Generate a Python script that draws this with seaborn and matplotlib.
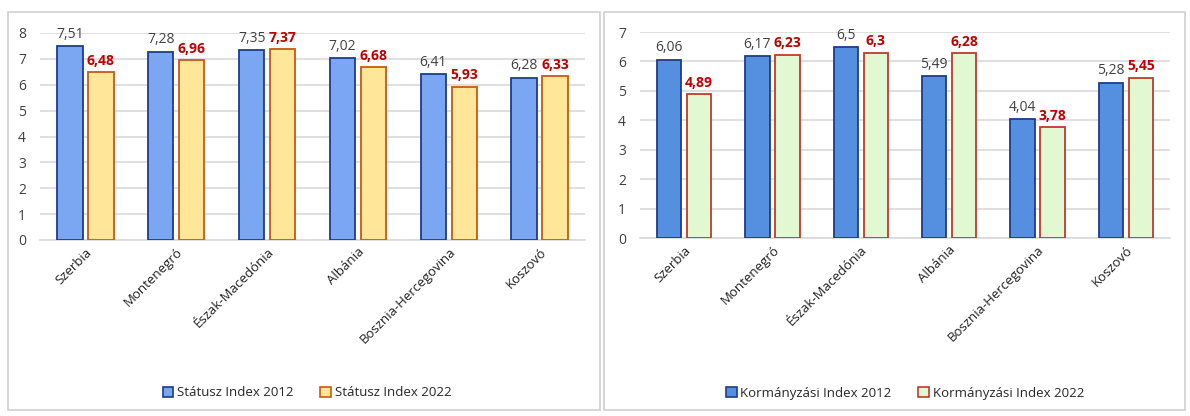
import matplotlib
matplotlib.use("Agg")
import matplotlib.pyplot as plt
from matplotlib.patches import Patch, Rectangle
import seaborn as sns
import pandas as pd

countries = ["Szerbia", "Montenegró", "Észak-Macedónia", "Albánia",
             "Bosznia-Hercegovina", "Koszovó"]
status_2012 = [7.51, 7.28, 7.35, 7.02, 6.41, 6.28]
status_2022 = [6.48, 6.96, 7.37, 6.68, 5.93, 6.33]
gov_2012 = [6.06, 6.17, 6.5, 5.49, 4.04, 5.28]
gov_2022 = [4.89, 6.23, 6.3, 6.28, 3.78, 5.45]

left_series = ["Státusz Index 2012", "Státusz Index 2022"]
right_series = ["Kormányzási Index 2012", "Kormányzási Index 2022"]

sns.set_theme(style="white")
plt.rcParams["font.family"] = ["Open Sans", "DejaVu Sans"]

fig = plt.figure(figsize=(11.9, 4.16), dpi=100)
W, H = 1190, 416

def fx(px):
    return px / W

def fy(py):
    return 1 - py / H

# panel frames
for x0, x1 in [(8, 600), (604, 1185)]:
    fig.patches.append(Rectangle((fx(x0), fy(410)), fx(x1 - x0), (410 - 12) / H,
                                 transform=fig.transFigure, fill=False,
                                 edgecolor="#D0D0D0", linewidth=1.2, zorder=0))

def fmt(v):
    return f"{v:g}".replace(".", ",")

def panel(rect, v12, v22, names, fills, edges, ymax, legend_x):
    ax = fig.add_axes(rect)
    df = pd.DataFrame({
        "country": countries * 2,
        "value": v12 + v22,
        "series": [names[0]] * len(countries) + [names[1]] * len(countries),
    })
    sns.barplot(data=df, x="country", y="value", hue="series", ax=ax,
                palette=fills, saturation=1, width=0.68, gap=0.18,
                legend=False, zorder=3)
    for cont, ec, vals, col, wt in zip(ax.containers, edges, [v12, v22],
                                       ["#404040", "#C00000"], ["normal", "bold"]):
        for b in cont:
            b.set_edgecolor(ec)
            b.set_linewidth(1.3)
        ax.bar_label(cont, labels=[fmt(v) for v in vals], padding=3,
                     color=col, fontweight=wt, fontsize=10, clip_on=False)
    ax.set_ylim(0, ymax)
    ax.set_xlim(-0.5, len(countries) - 0.5)
    ax.set_yticks(range(0, ymax + 1))
    ax.yaxis.grid(True, color="#D9D9D9", linewidth=1.2, zorder=0)
    ax.set_axisbelow(True)
    for s in ["top", "right", "left"]:
        ax.spines[s].set_visible(False)
    ax.spines["bottom"].set_color("#D9D9D9")
    ax.spines["bottom"].set_linewidth(1.2)
    ax.set_xlabel("")
    ax.set_ylabel("")
    ax.tick_params(axis="y", length=0, pad=10, labelsize=10, labelcolor="#404040")
    ax.tick_params(axis="x", length=0, pad=4, labelsize=9.5, labelcolor="#202020")
    for lab in ax.get_xticklabels():
        lab.set_rotation(45)
        lab.set_ha("right")
        lab.set_rotation_mode("anchor")
        lab.set_x(lab.get_position()[0])
    handles = [Patch(facecolor=fills[i], edgecolor=edges[i], linewidth=1.2,
                     label=names[i]) for i in range(2)]
    fig.legend(handles=handles, loc="center", bbox_to_anchor=(legend_x, fy(393)),
               ncol=2, frameon=False, fontsize=9.5, handlelength=0.8,
               handleheight=0.8, handletextpad=0.3, columnspacing=2.0)
    return ax

panel([fx(40), fy(240), fx(585 - 40), (240 - 33) / H],
      status_2012, status_2022, left_series,
      ["#7BA7F2", "#FFE699"], ["#1F3C88", "#C55A11"], 8, fx(307))

panel([fx(640), fy(238), fx(1170 - 640), (238 - 32) / H],
      gov_2012, gov_2022, right_series,
      ["#5590E0", "#E2F8D2"], ["#1F3C88", "#C0392B"], 7, fx(905))

fig.savefig("out.png", dpi=100)
